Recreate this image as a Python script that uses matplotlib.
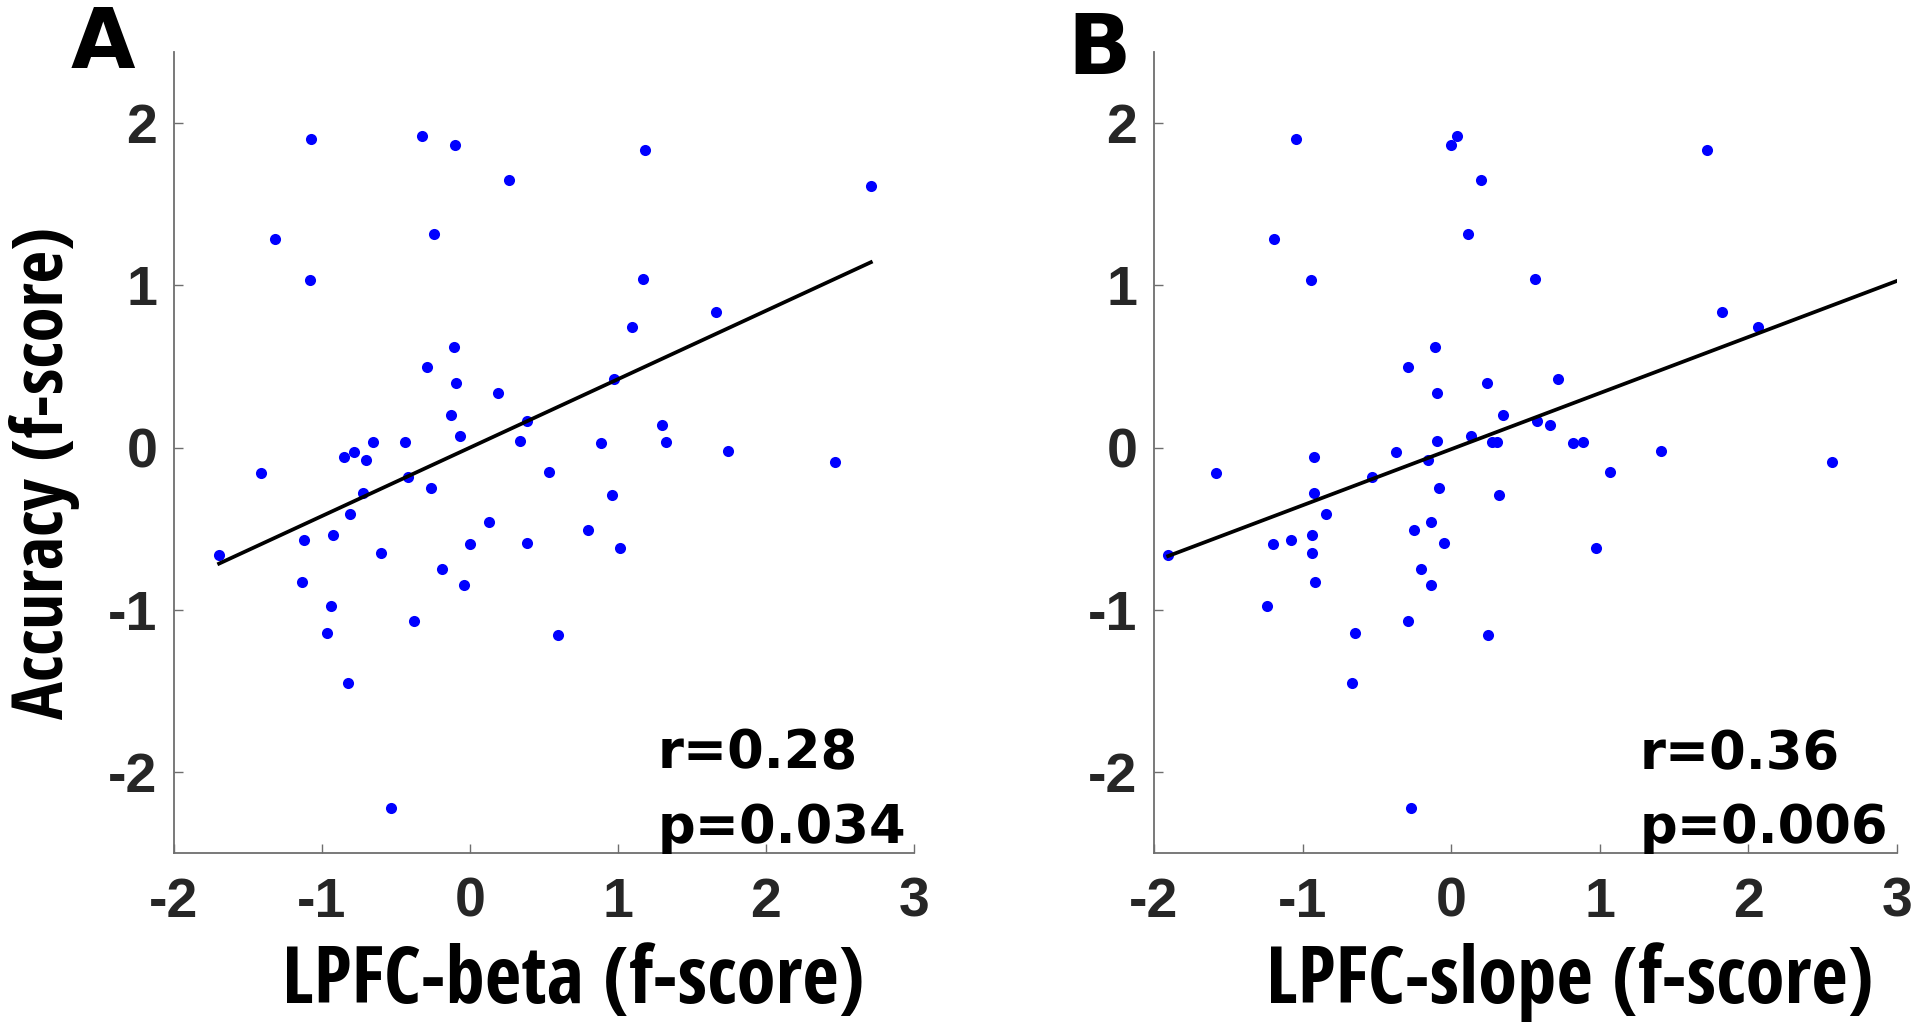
import numpy as np
import matplotlib
matplotlib.use('Agg')
import matplotlib.pyplot as plt

plt.rcParams['axes.unicode_minus'] = False
plt.rcParams['font.family'] = 'Liberation Sans'
plt.rcParams['font.weight'] = 'bold'

# one entry per subject, same order in every list
accuracy = [1.903, 1.923, 1.865, 1.652, 1.833, 1.613, 1.285, 1.317, 1.034, 1.040,
            0.834, 0.744, 0.622, 0.499, 0.399, 0.338, 0.422, 0.203, 0.164, 0.138,
            0.074, 0.035, 0.035, 0.042, 0.029, 0.035, -0.055, -0.029, -0.074, -0.023,
            -0.087, -0.158, -0.184, -0.151, -0.277, -0.248, -0.293, -0.409, -0.660, -0.570,
            -0.538, -0.647, -0.461, -0.596, -0.589, -0.506, -0.622, -0.828, -0.750, -0.847,
            -0.976, -1.143, -1.072, -1.156, -1.452, -2.222]
lpfc_beta = [-1.076, -0.326, -0.098, 0.264, 1.184, 2.709, -1.317, -0.241, -1.082, 1.167,
             1.663, 1.092, -0.108, -0.287, -0.091, 0.189, 0.972, -0.130, 0.385, 1.298,
             -0.068, -0.655, -0.437, 0.336, 0.887, 1.327, -0.854, -0.783, -0.704, 1.741,
             2.468, -1.409, -0.421, 0.535, -0.724, -0.261, 0.959, -0.812, -1.695, -1.118,
             -0.923, -0.600, 0.127, 0.003, 0.385, 0.799, 1.017, -1.135, -0.186, -0.039,
             -0.942, -0.968, -0.375, 0.593, -0.825, -0.531]
# the sixth subject lies beyond the right edge of panel B
lpfc_slope = [-1.043, 0.039, 0.000, 0.202, 1.722, 3.10, -1.190, 0.111, -0.946, 0.564,
              1.826, 2.067, -0.111, -0.287, 0.241, -0.095, 0.721, 0.346, 0.580, 0.662,
              0.134, 0.274, 0.310, -0.095, 0.822, 0.887, -0.926, -0.368, -0.157, 1.415,
              2.566, -1.585, -0.531, 1.069, -0.926, -0.082, 0.320, -0.844, -1.904, -1.079,
              -0.933, -0.933, -0.134, -1.196, -0.049, -0.251, 0.972, -0.919, -0.202, -0.137,
              -1.242, -0.646, -0.293, 0.251, -0.668, -0.271]

# fitted lines as drawn in the figure (slope, intercept)
fit_beta = (0.422, 0.0)
fit_slope = (0.346, -0.01)

stats_beta = ['r=0.28', 'p=0.034']
stats_slope = ['r=0.36', 'p=0.006']

xticks = [-2, -1, 0, 1, 2, 3]
yticks = [-2, -1, 0, 1, 2]

label_font = ['Liberation Sans Narrow', 'Open Sans Condensed', 'Roboto Condensed',
              'Noto Sans Condensed', 'DejaVu Sans']


def draw_panel(ax, x, y, fit, xlabel, stats, xlabel_pos):
    x = np.asarray(x)
    y = np.asarray(y)
    ax.plot(x, y, 'o', color='#0000ff', ms=8, mec='none')

    k, b = fit
    xs = np.array([x.min(), x.max()])
    ax.plot(xs, k * xs + b, color='black', lw=2.7)

    ax.set_xlim(-2, 3)
    ax.set_ylim(-2.5, 2.44)
    ax.set_xticks(xticks)
    ax.set_yticks(yticks)
    ax.tick_params(direction='in', length=6.5, width=1, color='#6e6e6e',
                   labelsize=40, labelcolor='#262626')
    ax.tick_params(axis='x', pad=17)
    ax.tick_params(axis='y', pad=12)
    for side in ['top', 'right']:
        ax.spines[side].set_visible(False)
    for side in ['left', 'bottom']:
        ax.spines[side].set_color('#6e6e6e')
        ax.spines[side].set_linewidth(1.3)

    ax.set_xlabel(xlabel, family=label_font, fontstretch='condensed',
                  fontsize=57, fontweight='bold')
    ax.xaxis.set_label_coords(xlabel_pos, -0.112)

    ax.text(1.27, -1.98, stats[0], family='DejaVu Sans', fontsize=38, fontweight='bold')
    ax.text(1.27, -2.44, stats[1], family='DejaVu Sans', fontsize=38, fontweight='bold')


fig = plt.figure(figsize=(19.2, 10.23), dpi=100)
ax_a = fig.add_axes([0.0906, 0.1662, 0.3854, 0.783])
ax_b = fig.add_axes([0.601, 0.1662, 0.387, 0.783])

draw_panel(ax_a, lpfc_beta, accuracy, fit_beta, 'LPFC-beta (f-score)', stats_beta, 0.539)
draw_panel(ax_b, lpfc_slope, accuracy, fit_slope, 'LPFC-slope (f-score)', stats_slope, 0.56)

ax_a.set_ylabel('Accuracy (f-score)', family=label_font, fontstretch='condensed',
                fontsize=51, fontweight='bold')
ax_a.yaxis.set_label_coords(-0.127, 0.474)

fig.text(0.037, 0.934, 'A', family='DejaVu Sans', fontsize=60, fontweight='bold')
fig.text(0.556, 0.928, 'B', family='DejaVu Sans', fontsize=60, fontweight='bold')

fig.savefig('out.png', dpi=100)
